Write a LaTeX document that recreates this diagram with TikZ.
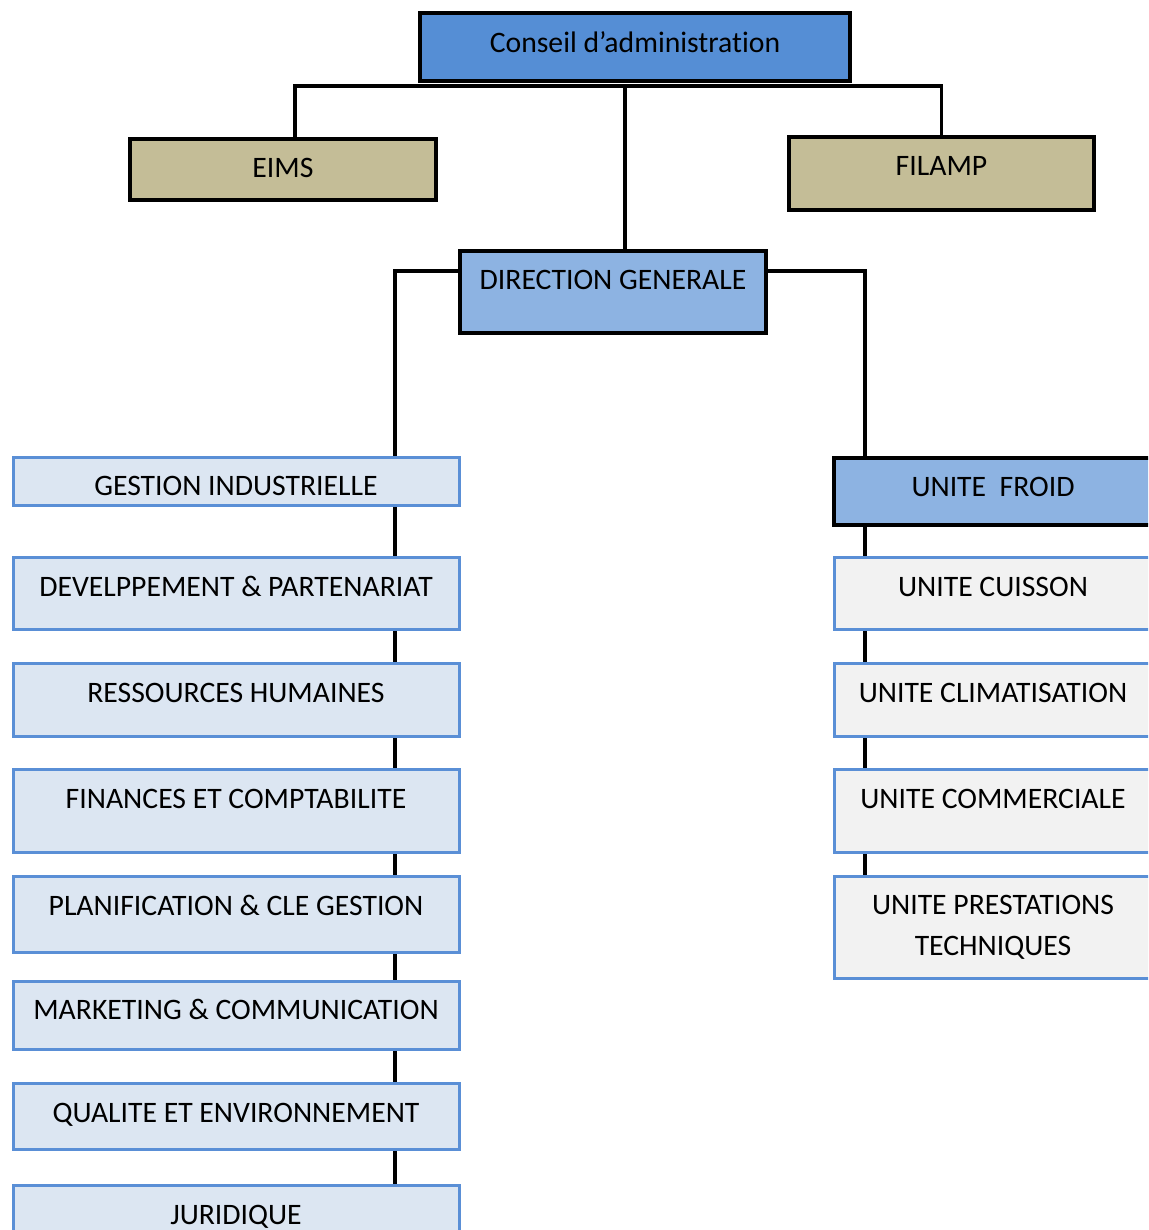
\documentclass[tikz,border=0pt]{standalone}
\usepackage{fontspec}
\setmainfont[Ligatures=NoCommon]{Carlito}
\usetikzlibrary{positioning, backgrounds}
\definecolor{boardblue}{HTML}{558ED5}
\definecolor{headblue}{HTML}{8DB3E2}
\definecolor{khaki}{HTML}{C4BD97}
\definecolor{deptbg}{HTML}{DCE6F2}
\definecolor{unitbg}{HTML}{F2F2F2}
\definecolor{edgeblue}{HTML}{5A8FD6}
\newcommand\orgfont{\fontsize{29.7}{41}\selectfont}
\tikzset{
  orgbox/.style = {rectangle, anchor=base, font=\orgfont, text=black,
                   inner xsep=0pt, inner ysep=0pt},
  board/.style  = {orgbox, draw=black, line width=3.8pt, fill=boardblue},
  sister/.style = {orgbox, draw=black, line width=3.3pt, fill=khaki},
  head/.style   = {orgbox, draw=black, line width=3.3pt, fill=headblue},
  dept/.style   = {orgbox, draw=edgeblue, line width=3pt, fill=deptbg,
                   minimum width=446pt},
  unitbox/.style = {orgbox, draw=edgeblue, line width=3pt, fill=unitbg,
                   minimum width=318pt},
  link/.style   = {draw=black, line width=3.3pt},
}
\begin{document}
\begin{tikzpicture}[x=1pt, y=-1pt]
\useasboundingbox (0,0) rectangle (1148,1230);
\clip (0,0) rectangle (1148,1230);

% ---- Board and sister companies ----
\node[board, minimum width=430pt, text height=40pt, text depth=28pt] (ca) at (635,53) {Conseil d’administration};
\node[sister, minimum width=306pt, text height=39pt, text depth=22pt] (eims) at (283,178) {EIMS};
\node[sister, minimum width=305pt, text height=39pt, text depth=34pt] (filamp) at (941.5,176) {FILAMP};

% ---- General management ----
\node[head, minimum width=306pt, text height=39pt, text depth=43pt] (dg) at (613,290) {DIRECTION GENERALE};

% ---- Departments (left) ----
\node[dept, text height=38pt, text depth=10pt] (gi)   at (236,495)  {GESTION INDUSTRIELLE};
\node[dept, text height=39pt, text depth=33pt] (dev)  at (236,596)  {DEVELPPEMENT \& PARTENARIAT};
\node[dept, text height=39pt, text depth=34pt] (rh)   at (236,702)  {RESSOURCES HUMAINES};
\node[dept, text height=39pt, text depth=44pt] (fin)  at (236,808)  {FINANCES ET COMPTABILITE};
\node[dept, text height=39pt, text depth=37pt] (plan) at (236,915)  {PLANIFICATION \& CLE GESTION};
\node[dept, text height=38pt, text depth=30pt] (mkt)  at (236,1019) {MARKETING \& COMMUNICATION};
\node[dept, text height=39pt, text depth=27pt] (qual) at (236,1122) {QUALITE ET ENVIRONNEMENT};
\node[dept, text height=39pt, text depth=36pt] (jur)  at (236,1224) {JURIDIQUE};

% ---- Units (right) ----
\node[head, minimum width=318pt, text height=38pt, text depth=29pt] (froid) at (993,496) {UNITE\ \ FROID};
\node[unitbox, text height=39pt, text depth=33pt] (cuis)  at (993,596) {UNITE CUISSON};
\node[unitbox, text height=39pt, text depth=34pt] (clim)  at (993,702) {UNITE CLIMATISATION};
\node[unitbox, text height=39pt, text depth=44pt] (comm)  at (993,808) {UNITE COMMERCIALE};
\node[unitbox, align=center, minimum height=102pt, anchor=center] (prest) at (993,927)
  {UNITE PRESTATIONS\\TECHNIQUES};

% ===== Connectors =====
\begin{scope}[on background layer]
  \coordinate (bus) at (625,86);
  \coordinate (lspine) at (395,271);
  \coordinate (rspine) at (865,271);
  \draw[link] ([xshift=12pt]eims.north) |- (bus) -| (filamp.north);
  \draw[link] (bus) -- (bus |- dg.north);
  \draw[link] ([yshift=21pt]dg.west) -- (lspine) -- (lspine |- jur.north);
  \draw[link] ([yshift=21pt]dg.east) -- (rspine) -- (rspine |- prest.north);
\end{scope}

\end{tikzpicture}
\end{document}
